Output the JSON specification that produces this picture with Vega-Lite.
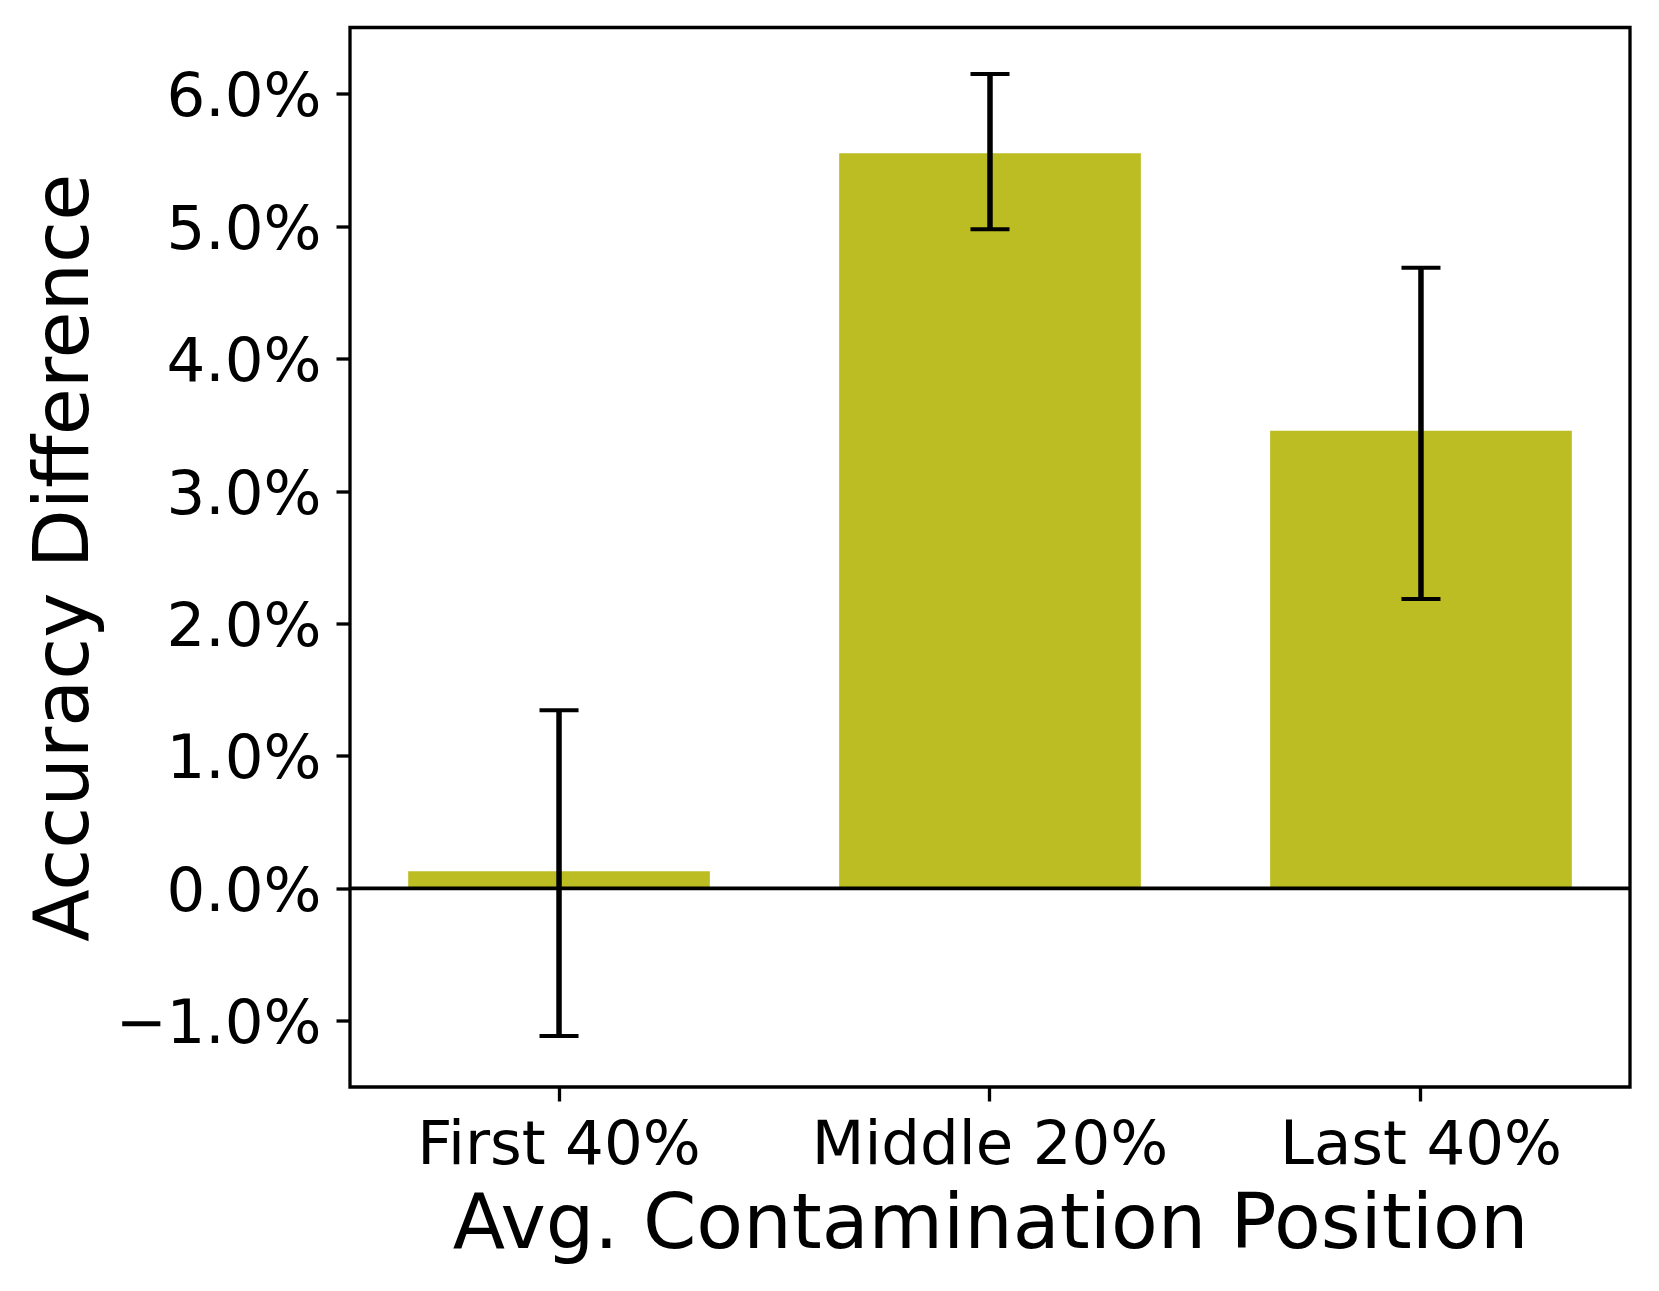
{
  "$schema": "https://vega.github.io/schema/vega-lite/v6.json",
  "width": 1280,
  "height": 1059.5,
  "autosize": "none",
  "padding": {"left": 350, "top": 27.5, "right": 29, "bottom": 204},
  "background": "white",
  "config": {
    "font": "DejaVu Sans",
    "view": {"stroke": "black", "strokeWidth": 3.3}
  },
  "datasets": {
    "bars": [
      {"position": "First 40%", "acc": 0.13, "lo": -1.115, "hi": 1.345},
      {"position": "Middle 20%", "acc": 5.55, "lo": 4.976, "hi": 6.149},
      {"position": "Last 40%", "acc": 3.455, "lo": 2.184, "hi": 4.686}
    ],
    "zero": [{"z": 0}]
  },
  "layer": [
    {
      "data": {"name": "bars"},
      "mark": {"type": "bar", "color": "#bcbd22"},
      "encoding": {
        "x": {
          "field": "position", "type": "nominal", "sort": null,
          "scale": {"paddingInner": 0.3, "paddingOuter": 0.135},
          "axis": {
            "title": "Avg. Contamination Position",
            "labelAngle": 0,
            "labelLimit": 0,
            "labelFontSize": 61,
            "labelColor": "black",
            "labelPadding": 14,
            "tickSize": 14,
            "tickWidth": 3.3,
            "tickColor": "black",
            "domain": false,
            "grid": false,
            "titleFontSize": 76.5,
            "titleFontWeight": "normal",
            "titleColor": "black",
            "titlePadding": 12
          }
        },
        "y": {
          "field": "acc", "type": "quantitative",
          "scale": {"domain": [-1.5, 6.5], "nice": false, "zero": false},
          "axis": {
            "title": "Accuracy Difference",
            "values": [-1, 0, 1, 2, 3, 4, 5, 6],
            "labelExpr": "replace(format(datum.value, '.1f'), '-', '\u2212') + '%'",
            "labelLimit": 0,
            "labelFontSize": 61,
            "labelColor": "black",
            "labelPadding": 15,
            "labelBaseline": "alphabetic",
            "labelOffset": 22,
            "tickSize": 14,
            "tickWidth": 3.3,
            "tickColor": "black",
            "domain": false,
            "grid": false,
            "titleFontSize": 76.5,
            "titleFontWeight": "normal",
            "titleColor": "black",
            "titlePadding": 47
          }
        }
      }
    },
    {
      "data": {"name": "zero"},
      "mark": {"type": "rule", "color": "black", "strokeWidth": 3.8},
      "encoding": {
        "y": {"field": "z", "type": "quantitative"}
      }
    },
    {
      "data": {"name": "bars"},
      "mark": {"type": "rule", "color": "black", "strokeWidth": 5.5},
      "encoding": {
        "x": {"field": "position", "type": "nominal", "sort": null},
        "y": {"field": "lo", "type": "quantitative"},
        "y2": {"field": "hi"}
      }
    },
    {
      "data": {"name": "bars"},
      "mark": {"type": "tick", "orient": "horizontal", "color": "black", "opacity": 1, "size": 39, "thickness": 4},
      "encoding": {
        "x": {"field": "position", "type": "nominal", "sort": null},
        "y": {"field": "lo", "type": "quantitative"}
      }
    },
    {
      "data": {"name": "bars"},
      "mark": {"type": "tick", "orient": "horizontal", "color": "black", "opacity": 1, "size": 39, "thickness": 4},
      "encoding": {
        "x": {"field": "position", "type": "nominal", "sort": null},
        "y": {"field": "hi", "type": "quantitative"}
      }
    }
  ]
}
